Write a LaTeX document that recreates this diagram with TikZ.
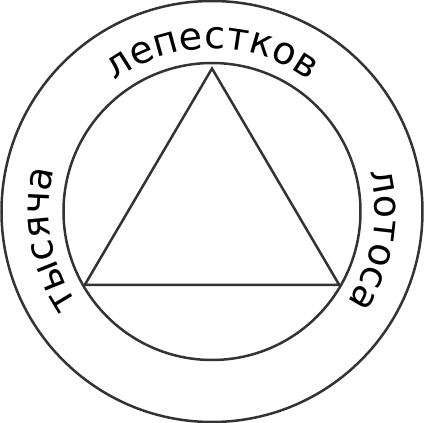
\documentclass[tikz,border=0pt]{standalone}
\usepackage{fontspec}
\setmainfont{DejaVu Sans}
\usetikzlibrary{decorations.text}
\definecolor{ink}{HTML}{333333}

\begin{document}
\begin{tikzpicture}[x=1pt,y=1pt,line width=2.5pt,color=ink,
  ringtext/.style={decorate,decoration={text along path,text align=center,
    text={|\fontsize{38}{42}\selectfont|#1}}}]
\useasboundingbox (-212,-211.5) rectangle (212,211.5);
\coordinate (O) at (0,0);
\draw (O) circle (210.5);
\draw (O) circle (148.5);
\coordinate (A) at (90:143);
\coordinate (B) at (210:147);
\coordinate (C) at (330:147);
\draw (A) -- (B) -- (C) -- cycle;
% words round the ring, read clockwise
\path[ringtext=тысяча] (250:163) arc (250:130:163);
\path[ringtext=лепестков] (150:163) arc (150:30:163);
\path[ringtext=лотоса] (50:163) arc (50:-70:163);
\end{tikzpicture}
\end{document}
